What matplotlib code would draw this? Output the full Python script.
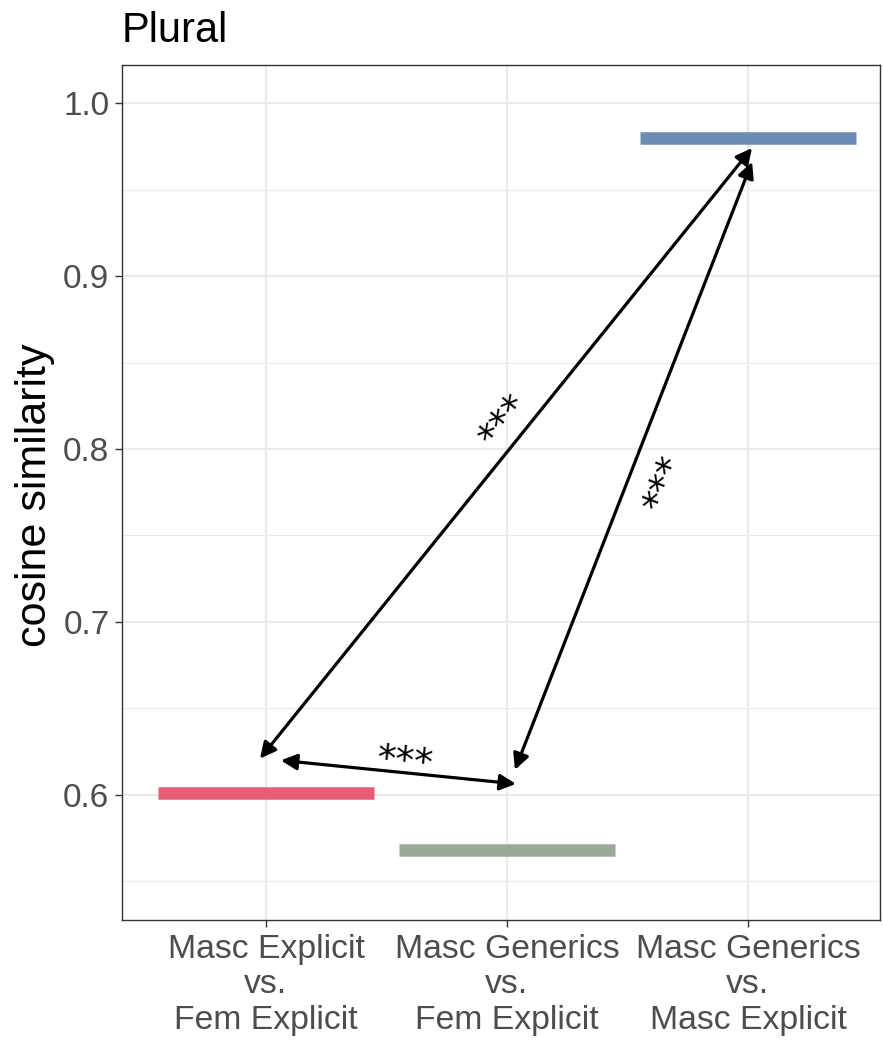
import matplotlib
matplotlib.use("Agg")
import matplotlib.pyplot as plt
from matplotlib.ticker import MultipleLocator

plt.rcParams['font.family'] = ['Liberation Sans', 'DejaVu Sans']

# data
categories = ["Masc Explicit\nvs.\nFem Explicit",
              "Masc Generics\nvs.\nFem Explicit",
              "Masc Generics\nvs.\nMasc Explicit"]
similarity = [0.601, 0.568, 0.980]
bar_colors = ["#E85D75", "#9AAA96", "#6A8DB2"]

# comparison arrows: (x_start, y_start, x_end, y_end)
arrows = [
    (0.975, 0.621, 3.017, 0.974),
    (2.033, 0.6145, 3.017, 0.966),
    (1.062, 0.620, 2.037, 0.6064),
]
# significance labels: (x, y, rotation)
sig_labels = [
    (1.992, 0.816, 51),
    (2.660, 0.780, 69),
    (1.577, 0.6185, -6),
]

fig = plt.figure(figsize=(8.83, 10.4), dpi=100)
ax = fig.add_axes([122 / 883, 1 - 920 / 1040, (880 - 122) / 883, (920 - 65) / 1040])

xs = [1, 2, 3]
for x, y, c in zip(xs, similarity, bar_colors):
    ax.plot([x - 0.45, x + 0.45], [y, y], color=c, lw=9, solid_capstyle='butt', zorder=3)

for x0, y0, x1, y1 in arrows:
    ax.annotate("", xy=(x1, y1), xytext=(x0, y0),
                arrowprops=dict(arrowstyle="<|-|>", color="black", lw=2.3,
                                mutation_scale=24, shrinkA=0, shrinkB=0),
                zorder=4)

for x, y, rot in sig_labels:
    ax.text(x, y, "***", fontsize=27, family='DejaVu Sans', rotation=rot,
            ha='center', va='center', rotation_mode='anchor', zorder=5)

ax.set_xlim(0.4025, 3.548)
ax.set_ylim(0.5277, 1.022)
ax.set_xticks(xs)
ax.set_xticklabels(categories, fontsize=24.3, color="#4D4D4D", linespacing=1.19)
ax.yaxis.set_minor_locator(MultipleLocator(0.05))
ax.set_yticks([0.6, 0.7, 0.8, 0.9, 1.0])
ax.set_yticklabels(["0.6", "0.7", "0.8", "0.9", "1.0"], fontsize=24, color="#4D4D4D")
ax.tick_params(axis='both', which='major', length=5, width=1, color="#333333")
ax.tick_params(axis='y', which='minor', length=0)
ax.tick_params(axis='x', pad=5)
ax.tick_params(axis='y', pad=4)

ax.grid(True, which='major', color="#EBEBEB", lw=1.6, zorder=0)
ax.grid(True, which='minor', axis='y', color="#EBEBEB", lw=0.8, zorder=0)
ax.set_axisbelow(True)
for s in ax.spines.values():
    s.set_color("#333333")
    s.set_linewidth(1)

fig.text(35 / 883, 1 - 495 / 1040, "cosine similarity", fontsize=31, rotation=90,
         ha='center', va='center')
fig.text(122 / 883, 1 - 42 / 1040, "Plural", fontsize=30, ha='left', va='baseline')

fig.savefig("out.png", dpi=100)
